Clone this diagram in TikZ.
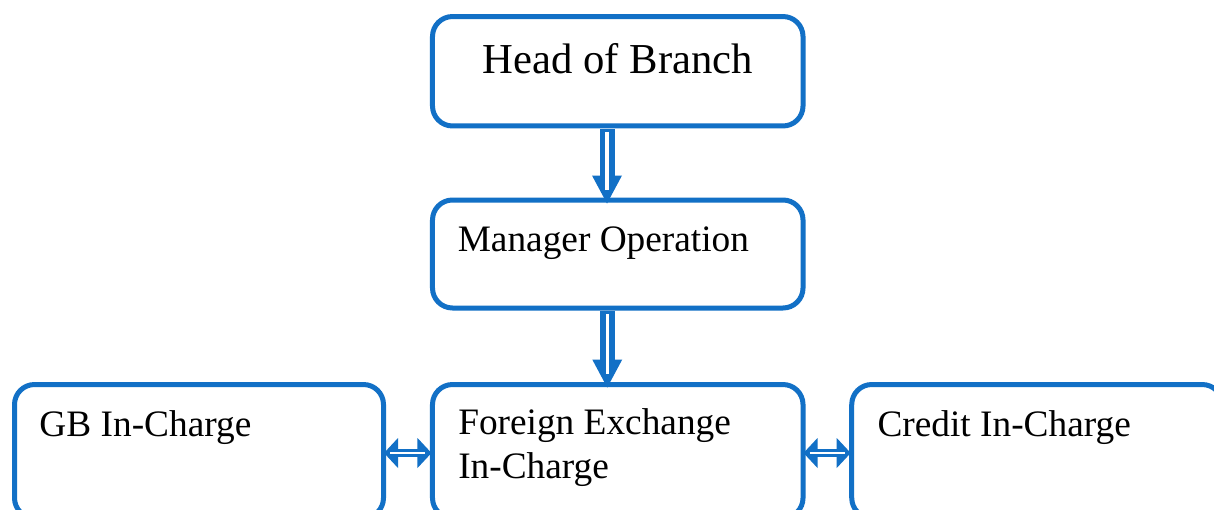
\documentclass[tikz,border=0pt]{standalone}
\usepackage{fontspec}
\setmainfont{Liberation Serif}
\usetikzlibrary{calc}
\definecolor{boxblue}{RGB}{18,112,198}
\tikzset{
  orgbox/.style={draw=boxblue, line width=3.75pt, rounded corners=15pt, fill=white,
    inner sep=0pt, minimum width=277.9pt},
  arrowbody/.style={fill=boxblue},
  arrowcore/.style={draw=white, line width=2.6pt},
  boxtext/.style={font=\fontsize{28}{33}\selectfont, inner sep=0pt, align=left},
  titletext/.style={font=\fontsize{32}{38}\selectfont, inner sep=0pt},
}
% hollow block arrow pointing down: #1 start of shaft, #2 tip
\newcommand{\hollowdown}[2]{%
  \fill[arrowbody] ($(#1)+(-7.5,-2)$) rectangle ($(#2)+(7.5,-26)$);
  \fill[arrowbody] (#2) -- ($(#2)+(-15,-28)$) -- ($(#2)+(15,-28)$) -- cycle;
  \draw[arrowcore] ($(#1)+(0,1)$) -- ($(#2)+(0,-14)$);}
% hollow double-headed block arrow: #1 left tip, #2 right tip
\newcommand{\hollowboth}[2]{%
  \fill[arrowbody] (#1) -- ($(#1)+(14,-15)$) -- ($(#1)+(14,15)$) -- cycle;
  \fill[arrowbody] (#2) -- ($(#2)+(-14,-15)$) -- ($(#2)+(-14,15)$) -- cycle;
  \fill[arrowbody] ($(#1)+(10,-4)$) rectangle ($(#2)+(-10,4)$);
  \draw[arrowcore, line width=1.8pt] ($(#1)+(6,0)$) -- ($(#2)+(-6,0)$);}
\begin{document}
\begin{tikzpicture}[x=0.75pt, y=-0.75pt]
  \clip (0,0) rectangle (1214,510);
  \fill[white] (0,0) rectangle (1214,510);

  % boxes
  \node[orgbox, minimum height=82.1pt] (head) at (617.75,71.25) {};
  \node[orgbox, minimum height=81pt]   (mgr)  at (617.75,254) {};
  \node[orgbox, minimum height=100.1pt, minimum width=276.75pt] (gb) at (199,451.25) {};
  \node[orgbox, minimum height=100.1pt] (fx)  at (617.75,451.25) {};
  \node[orgbox, minimum height=100.1pt] (cr)  at (1037,451.25) {};

  % labels
  \node[titletext, anchor=base] (headtxt) at ($(head.north)+(0,59.5)$) {Head of Branch};
  \node[boxtext, anchor=base west] (mgrtxt) at ($(mgr.north west)+(27.5,54)$) {Manager Operation};
  \node[boxtext, anchor=base west] (gbtxt) at ($(gb.north west)+(27.2,54)$) {GB In-Charge};
  \node[boxtext, anchor=base west] (fxtxt) at ($(fx.north west)+(28,96.5)$) {Foreign Exchange\\In-Charge};
  \node[boxtext, anchor=base west] (crtxt) at ($(cr.north west)+(28,54)$) {Credit In-Charge};

  % connectors
  \hollowdown{$(head.south)+(-10.75,2.5)$}{$(mgr.north)+(-10.75,6)$}
  \hollowdown{$(mgr.south)+(-10.5,2.5)$}{$(fx.north)+(-10.5,5.5)$}
  \hollowboth{$(gb.east)+(-2,1.75)$}{$(fx.west)+(1.5,1.75)$}
  \hollowboth{$(fx.east)+(-2,1.75)$}{$(cr.west)+(1.5,1.75)$}
\end{tikzpicture}
\end{document}
